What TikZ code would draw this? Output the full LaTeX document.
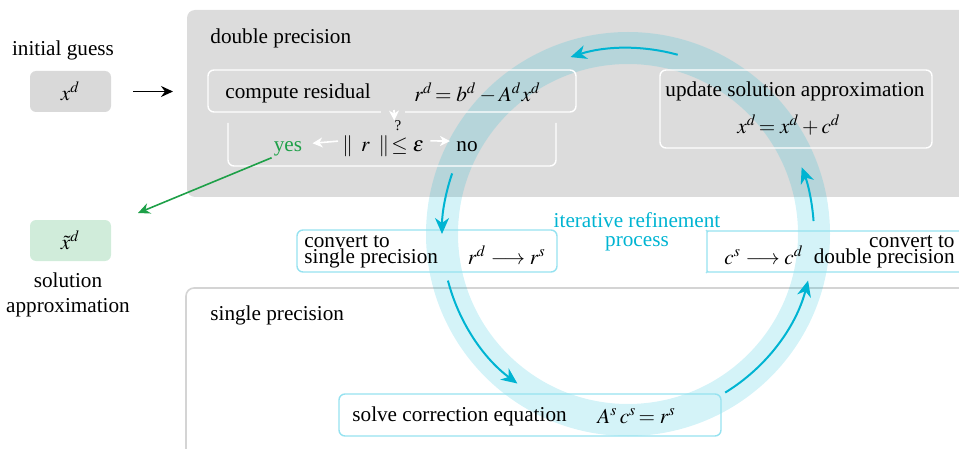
\documentclass[tikz,border=0pt]{standalone}
\usepackage{mathptmx}
\usepackage{fontspec}
\setmainfont{Liberation Serif}
\usetikzlibrary{arrows.meta,calc}
\definecolor{bggray}{RGB}{220,220,220}
\definecolor{boxgray}{RGB}{217,217,217}
\definecolor{greenfill}{RGB}{208,236,218}
\definecolor{greenline}{RGB}{30,160,72}
\definecolor{cyantext}{RGB}{0,180,210}
\definecolor{ringc}{RGB}{0,184,214}
\definecolor{cyanborder}{RGB}{150,226,240}
\definecolor{spborder}{RGB}{212,212,212}
\tikzset{
  every node/.style={font=\fontsize{10.6pt}{12pt}\selectfont, inner sep=0pt},
  txt/.style={},
  whitebox/.style={draw=white, line width=0.7pt, rounded corners=3pt},
  cyanbox/.style={draw=cyanborder, line width=0.7pt, rounded corners=3pt},
  ringarrow/.style={draw=cyantext, line width=1pt, -{Stealth[length=8pt,width=7pt,inset=2.5pt]}},
  whitearrow/.style={draw=white, line width=0.8pt, -{Stealth[length=5pt,width=5pt,inset=1.5pt]}},
  blackarrow/.style={draw=black, line width=0.8pt, -{Stealth[length=6pt,width=5.5pt,inset=2pt]}},
  greenarrow/.style={draw=greenline, line width=0.8pt, -{Stealth[length=6pt,width=5.5pt,inset=2pt]}},
}
\begin{document}
\begin{tikzpicture}[x=0.5pt,y=-0.5pt]
\useasboundingbox (0,0) rectangle (959,449);
% backgrounds
\fill[bggray, rounded corners=4pt] (187,10) rectangle (990,197);
\draw[spborder, line width=0.8pt, rounded corners=4pt] (186,288) rectangle (1000,480);
\node[txt, anchor=west] (dp) at (210,38) {double precision};
\node[txt, anchor=west] (sp) at (210,315) {single precision};
% ring
\coordinate (c) at (628,234);
\draw[draw=ringc, draw opacity=0.17, line width=16pt] (c) circle[radius=93pt];
% left side
\node[txt] (ig) at (63,50) {initial guess};
\node[fill=boxgray, rounded corners=3pt, minimum width=40.5pt, minimum height=20.5pt] (xd) at (70.5,91.5) {$x^d$};
\node[fill=greenfill, rounded corners=3pt, minimum width=40.5pt, minimum height=20.5pt] (xt) at (70.5,240.5) {$\tilde{x}^d$};
\node[txt, align=center, font=\fontsize{10.6pt}{12.3pt}\selectfont] (sa) at (68,295) {solution\\approximation};
\coordinate (blackend) at (173,91.5);
\draw[blackarrow, shorten <=11pt] (xd.east) -- (blackend);
% compute residual
\node[whitebox, minimum width=184pt, minimum height=21pt] (cr) at (392,91) {};
\fill[bggray] (381,108) rectangle (405,115);
\node[txt, anchor=west] (crt) at (225,93) {compute residual};
\node[txt, anchor=west] (crm) at (414,93) {$r^d\!=b^d-A^d x^d$};
\draw[draw=white, line width=0.7pt, rounded corners=3pt] (228,123) -- (228,166) -- (556,166) -- (556,123);
\node[txt, font=\fontsize{7.5pt}{9pt}\selectfont] (q) at (398,126) {?};
\draw[whitearrow] (394,110) -- (q.north west);
\node[txt, text=greenline, anchor=base] (yes) at (288,152) {yes};
\node[txt, anchor=base west] (nrm) at (342,152) {$\|\hspace{4pt}r\hspace{4.5pt}\|\hspace{1pt}{\le}\hspace{2.5pt}\varepsilon$};
\node[txt, anchor=base] (no) at (467,152) {no};
\draw[whitearrow, shorten <=2pt] ([yshift=3pt]nrm.west) -- ([xshift=5pt,yshift=3pt]yes.east);
\draw[whitearrow, shorten <=3pt] ([yshift=3pt]nrm.east) -- ([xshift=-3pt,yshift=3pt]no.west);
\coordinate (gend) at (138,213);
\draw[greenarrow, shorten <=1pt] (yes.south west) -- (gend);
% update
\node[whitebox, minimum width=136pt, minimum height=39pt] (up) at (796,109) {};
\node[txt] (upt) at (795,91) {update solution approximation};
\node[txt] (upm) at (789,125) {$x^d\!=x^d+c^d$};
% convert single
\node[cyanbox, minimum width=130pt, minimum height=21pt] (cs) at (427,251) {};
\node[txt, anchor=west, align=left, font=\fontsize{10.6pt}{7.8pt}\selectfont] (cst) at (304,252) {convert to\\single precision};
\node[txt, anchor=east] (csm) at (546,255) {$r^d\longrightarrow r^s$};
% convert double
\draw[cyanborder, line width=0.7pt, rounded corners=3pt] (1000,231) -- (713,231) to[out=180,in=90] (707,237) -- (707,266) to[out=270,in=180] (713,272) -- (1000,272);
\node[txt, anchor=east, align=right, font=\fontsize{10.6pt}{7.8pt}\selectfont] (cdt) at (955,252) {convert to\\double precision};
\node[txt, anchor=west] (cdm) at (724,255) {$c^s\longrightarrow c^d$};
% solve
\node[cyanbox, minimum width=191pt, minimum height=21pt] (sv) at (530,415) {};
\node[txt, anchor=west] (svt) at (352,416) {solve correction equation};
\node[txt, anchor=west] (svm) at (597,416) {$A^s\,c^s\!=r^s$};
% label
\node[txt, text=cyantext, align=center, font=\fontsize{10.6pt}{9.5pt}\selectfont] (irp) at (637,232) {iterative refinement\\process};
% ring arrows
\draw[ringarrow] (c) ++(74.5:93pt) arc[start angle=74.5, end angle=108, radius=93pt];
\draw[ringarrow] (c) ++(161:93pt) arc[start angle=161, end angle=180, radius=93pt];
\draw[ringarrow] (c) ++(194.5:93pt) arc[start angle=194.5, end angle=233.5, radius=93pt];
\draw[ringarrow] (c) ++(301.5:93pt) arc[start angle=301.5, end angle=345.5, radius=93pt];
\draw[ringarrow] (c) ++(4:93pt) arc[start angle=4, end angle=21, radius=93pt];
\end{tikzpicture}
\end{document}
